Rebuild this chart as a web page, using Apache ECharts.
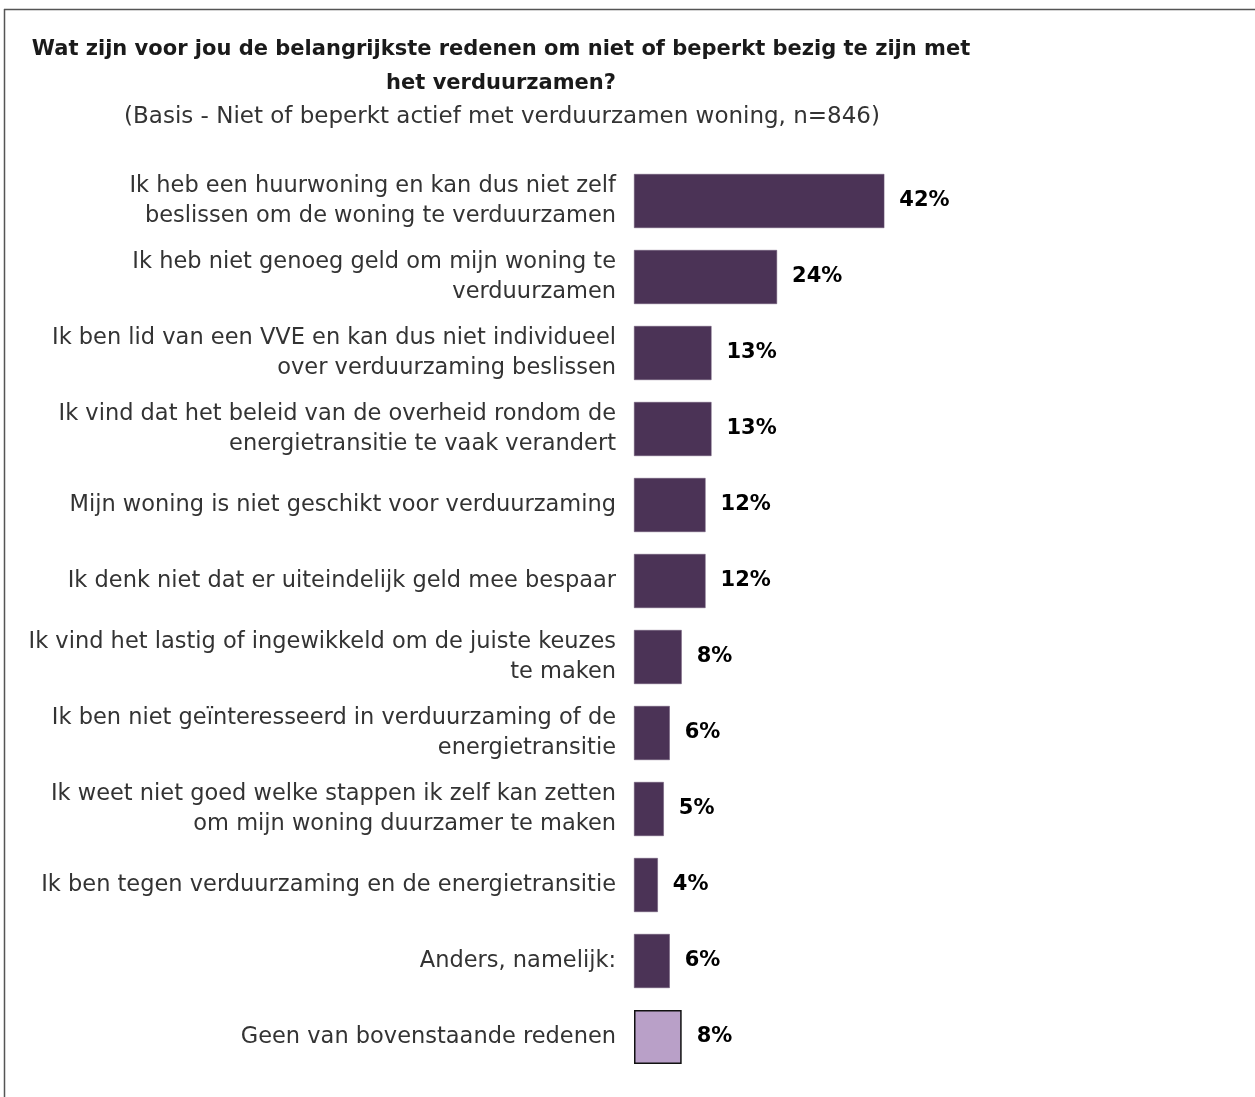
<!DOCTYPE html>
<html>
<head>
<meta charset="utf-8">
<script src="https://cdn.jsdelivr.net/npm/echarts@6/dist/echarts.min.js"></script>
<style>
html,body{margin:0;padding:0;background:#fff;}
#c{width:1255px;height:1097px;}
</style>
</head>
<body>
<div id="c"></div>
<script>
var titleText = 'Wat zijn voor jou de belangrijkste redenen om niet of beperkt bezig te zijn met\nhet verduurzamen?';
var subtitleText = '(Basis - Niet of beperkt actief met verduurzamen woning, n=846)';
var categories = [
  'Ik heb een huurwoning en kan dus niet zelf\nbeslissen om de woning te verduurzamen',
  'Ik heb niet genoeg geld om mijn woning te\nverduurzamen',
  'Ik ben lid van een VVE en kan dus niet individueel\nover verduurzaming beslissen',
  'Ik vind dat het beleid van de overheid rondom de\nenergietransitie te vaak verandert',
  'Mijn woning is niet geschikt voor verduurzaming',
  'Ik denk niet dat er uiteindelijk geld mee bespaar',
  'Ik vind het lastig of ingewikkeld om de juiste keuzes\nte maken',
  'Ik ben niet geïnteresseerd in verduurzaming of de\nenergietransitie',
  'Ik weet niet goed welke stappen ik zelf kan zetten\nom mijn woning duurzamer te maken',
  'Ik ben tegen verduurzaming en de energietransitie',
  'Anders, namelijk:',
  'Geen van bovenstaande redenen'
];
var values = [42, 24, 13, 13, 12, 12, 8, 6, 5, 4, 6, 8];
var highlightIndex = [11];

var FONT = '"DejaVu Sans", sans-serif';
var chart = echarts.init(document.getElementById('c'), null, {renderer: 'canvas'});

var data = values.map(function (v, i) {
  var hl = highlightIndex.indexOf(i) >= 0;
  return {
    value: v,
    itemStyle: hl ? {color: '#b9a0c8', borderColor: '#111', borderWidth: 1.5}
                  : {color: '#4b3356', borderColor: '#6a5575', borderWidth: 0.5}
  };
});

chart.setOption({
  animation: false,
  backgroundColor: '#fff',
  graphic: [
    {type: 'line', shape: {x1: 4, y1: 9.5, x2: 1255, y2: 9.5}, style: {stroke: '#555', lineWidth: 1.5}},
    {type: 'line', shape: {x1: 4.5, y1: 9, x2: 4.5, y2: 1097}, style: {stroke: '#555', lineWidth: 1.5}}
  ],
  title: [
    {
      text: titleText,
      left: 496, top: 28, textAlign: 'center',
      textStyle: {fontFamily: FONT, fontWeight: 'bold', fontSize: 21, color: '#1a1a1a', lineHeight: 34}
    },
    {
      text: subtitleText,
      left: 497, top: 101, textAlign: 'center',
      textStyle: {fontFamily: FONT, fontWeight: 'normal', fontSize: 23, color: '#333'}
    }
  ],
  grid: {left: 634, right: 323, top: 163, bottom: 22, containLabel: false},
  xAxis: {
    type: 'value', min: 0, max: 50, show: false
  },
  yAxis: {
    type: 'category', inverse: true, data: categories,
    axisLine: {show: false}, axisTick: {show: false}, splitLine: {show: false},
    axisLabel: {
      margin: 18, fontFamily: FONT, fontSize: 22.5, color: '#333', lineHeight: 30, align: 'right'
    }
  },
  series: [{
    type: 'bar',
    data: data,
    barWidth: 54,
    label: {
      show: true, position: 'right', distance: 15,
      formatter: '{c}%',
      fontFamily: FONT, fontWeight: 'bold', fontSize: 21, color: '#000'
    }
  }]
});
</script>
</body>
</html>
